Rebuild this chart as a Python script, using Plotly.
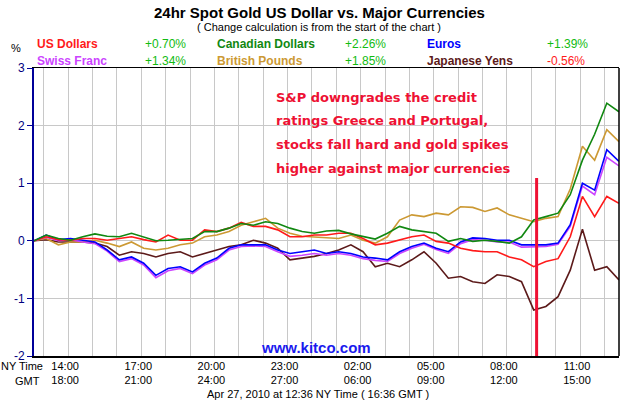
import plotly.graph_objects as go

# time axis: hours since 12:36 NY time on Apr 26 (24h window, 30-min samples)
hours = [i / 2 for i in range(49)]

us_dollars = [0, 0.07, 0.02, 0.01, 0.04, 0.04, 0.01, 0.04, 0.07, 0.02, -0.02, 0.10, 0.01, 0.01,
              0.19, 0.16, 0.22, 0.32, 0.25, 0.25, 0.19, 0.07, 0.07, 0.10, 0.10, 0.13, 0.13, 0.04,
              -0.07, -0.04, 0.01, 0.07, 0.10, -0.01, -0.04, -0.13, -0.17, -0.19, -0.19, -0.28,
              -0.33, -0.45, -0.36, -0.31, 0.07, 0.77, 0.42, 0.77, 0.65]
canadian_dollars = [0, 0.10, 0.04, 0.01, 0.07, 0.12, 0.08, 0.07, 0.13, 0.06, 0.00, 0.01, 0.03, 0.04,
                    0.16, 0.16, 0.22, 0.30, 0.27, 0.33, 0.30, 0.22, 0.16, 0.13, 0.17, 0.18, 0.12, 0.07,
                    0.03, 0.13, 0.25, 0.19, 0.16, 0.13, -0.01, 0.04, -0.01, 0.01, -0.01, -0.04,
                    0.07, 0.36, 0.42, 0.48, 0.80, 1.40, 1.85, 2.39, 2.24]
euros = [0, 0.10, 0.02, 0.04, 0.01, -0.02, -0.16, -0.33, -0.28, -0.39, -0.60, -0.48, -0.45, -0.54,
         -0.39, -0.30, -0.13, -0.07, -0.07, -0.07, -0.16, -0.22, -0.19, -0.16, -0.22, -0.19, -0.22,
         -0.28, -0.30, -0.33, -0.19, -0.10, -0.04, -0.13, -0.19, -0.02, 0.05, 0.04, 0.01, 0.01,
         -0.07, -0.07, -0.07, -0.04, 0.28, 1.00, 0.88, 1.58, 1.38]
swiss_franc = [0, 0.06, 0.00, 0.02, -0.02, -0.05, -0.18, -0.36, -0.31, -0.42, -0.64, -0.52, -0.48,
               -0.57, -0.42, -0.33, -0.16, -0.10, -0.09, -0.10, -0.19, -0.27, -0.25, -0.22, -0.25,
               -0.22, -0.25, -0.31, -0.34, -0.36, -0.22, -0.13, -0.06, -0.15, -0.22, -0.05, 0.02,
               0.01, -0.02, -0.02, -0.11, -0.11, -0.10, -0.06, 0.25, 0.95, 0.80, 1.45, 1.30]
british_pounds = [0, 0.04, -0.07, -0.02, -0.02, 0.01, -0.04, -0.10, -0.02, -0.13, -0.16, -0.13,
                  -0.07, -0.04, 0.07, 0.10, 0.16, 0.27, 0.33, 0.39, 0.22, 0.13, 0.08, 0.07, 0.06,
                  0.04, 0.10, 0.01, -0.04, 0.07, 0.36, 0.45, 0.42, 0.48, 0.45, 0.59, 0.58, 0.51,
                  0.57, 0.45, 0.39, 0.33, 0.39, 0.42, 0.90, 1.64, 1.40, 1.93, 1.72]
japanese_yens = [0, 0.02, -0.02, -0.02, -0.02, -0.04, -0.10, -0.25, -0.19, -0.22, -0.28, -0.22,
                 -0.19, -0.28, -0.22, -0.16, -0.10, -0.07, 0.01, -0.04, -0.13, -0.33, -0.30, -0.27,
                 -0.22, -0.16, -0.07, -0.19, -0.45, -0.39, -0.45, -0.33, -0.19, -0.39, -0.65, -0.62,
                 -0.71, -0.74, -0.59, -0.62, -0.71, -1.20, -1.14, -0.97, -0.51, 0.20, -0.51, -0.45,
                 -0.68]

names = ["US Dollars", "Canadian Dollars", "Euros", "Swiss Franc", "British Pounds", "Japanese Yens"]
change_pct = [0.70, 2.26, 1.39, 1.34, 1.85, -0.56]
colors = ["#ff1a1a", "#118811", "#0000ff", "#cc44ff", "#cc9933", "#5c1a1a"]
values = [us_dollars, canadian_dollars, euros, swiss_franc, british_pounds, japanese_yens]

tick_hours = [1.4, 4.4, 7.4, 10.4, 13.4, 16.4, 19.4, 22.4]
ny_labels = ["14:00", "17:00", "20:00", "23:00", "02:00", "05:00", "08:00", "11:00"]
gmt_labels = ["18:00", "21:00", "24:00", "27:00", "06:00", "09:00", "12:00", "15:00"]
y_ticks = [-2, -1, 0, 1, 2, 3]
event_hours = 20.62  # 09:13 NY time

FONT = "Arial, Liberation Sans, sans-serif"
L, R, T, B = 34, 11, 68, 44
W, H = 630, 400
PW, PH = W - L - R, H - T - B


def px(xp, yp):
    return (xp - L) / PW, (H - B - yp) / PH


fig = go.Figure()
draw_order = [5, 4, 3, 2, 0, 1]
for i in draw_order:
    fig.add_trace(go.Scatter(x=hours, y=values[i], mode="lines", name=names[i],
                             line=dict(color=colors[i], width=1.6), showlegend=False,
                             hoverinfo="skip"))

# legend block
col_x = [35, 215, 425]
val_x = [143, 343, 545]
for i, (n, c, p) in enumerate(zip(names, colors, change_pct)):
    col = i % 3
    row = i // 3
    yp = 44 + row * 17
    xx, yy = px(col_x[col], yp)
    fig.add_annotation(xref="paper", yref="paper", x=xx, y=yy, text=n, showarrow=False,
                       xanchor="left", yanchor="middle",
                       font=dict(family=FONT, size=12, color=c, weight="bold"))
    xx, yy = px(val_x[col], yp)
    fig.add_annotation(xref="paper", yref="paper", x=xx, y=yy,
                       xanchor="left", yanchor="middle", showarrow=False,
                       text=f"{p:+.2f}%",
                       font=dict(family=FONT, size=12, color="#11bb11" if p >= 0 else "#ff1a1a"))

annots = [
    (319, 12, "24hr Spot Gold US Dollar vs. Major Currencies", 15, "#000000", "bold", "center"),
    (319, 27, "( Change calculation is from the start of the chart )", 11, "#000000", "normal", "center"),
    (16, 48, "%", 11, "#000000", "normal", "center"),
    (316, 347, "www.kitco.com", 15, "#1a1aee", "bold", "center"),
    (45, 366, "NY Time", 11, "#000000", "normal", "right"),
    (42, 381, "GMT", 11, "#000000", "normal", "right"),
    (318, 394, "Apr 27, 2010 at 12:36 NY Time ( 16:36 GMT )", 11, "#000000", "normal", "center"),
]
for xp, yp, t, s, c, w, anc in annots:
    xx, yy = px(xp, yp)
    fig.add_annotation(xref="paper", yref="paper", x=xx, y=yy, text=t, showarrow=False,
                       xanchor=anc, yanchor="middle",
                       font=dict(family=FONT, size=s, color=c, weight=w))

note_lines = ["S&P downgrades the credit", "ratings Greece and Portugal,",
              "stocks fall hard and gold spikes", "higher against major currencies"]
bx0, by0 = px(273, 87)
bx1, by1 = px(523, 177)
fig.add_shape(type="rect", xref="paper", yref="paper", x0=bx0, x1=bx1, y0=by1, y1=by0,
              fillcolor="white", line=dict(width=0), layer="between")
for k, line in enumerate(note_lines):
    xx, yy = px(274, 97 + k * 23.7)
    fig.add_annotation(xref="paper", yref="paper", x=xx, y=yy, text=line, showarrow=False,
                       xanchor="left", yanchor="middle",
                       font=dict(family="DejaVu Sans, sans-serif", size=13, color="#ee1133",
                                 weight="bold"))

fig.add_shape(type="line", xref="x", yref="y", x0=event_hours, x1=event_hours, y0=-2, y1=1.09,
              line=dict(color="#ee1133", width=3))
fig.add_shape(type="line", xref="paper", yref="paper", x0=1, x1=1, y0=0, y1=1,
              line=dict(color="black", width=1.5))

fig.update_layout(
    width=W, height=H,
    margin=dict(l=L, r=R, t=T, b=B),
    paper_bgcolor="white", plot_bgcolor="white",
    font=dict(family=FONT, size=12, color="black"),
    xaxis=dict(range=[0, 24], tickvals=tick_hours,
               ticktext=[f"{a}<br>{b}" for a, b in zip(ny_labels, gmt_labels)],
               showgrid=True, gridcolor="#c8c8c8", gridwidth=1,
               minor=dict(tick0=0.4, dtick=1, showgrid=True, gridcolor="#c8c8c8", gridwidth=1),
               showline=True, linecolor="black", linewidth=1.5, mirror=True,
               ticks="", zeroline=False, tickfont=dict(size=11, color="black"),
               ticklabelshift=-3, ticklabelstandoff=-1, automargin=False),
    yaxis=dict(range=[-2, 3], tickvals=y_ticks, ticktext=[str(v) for v in y_ticks],
               showgrid=True, gridcolor="#c8c8c8", gridwidth=1, zeroline=False,
               showline=True, linecolor="#000099", linewidth=2, ticks="outside", ticklen=5,
               tickcolor="#000099", tickfont=dict(size=12, color="#000080"),
               automargin=False),
)
fig.write_html("out.html", config={"displayModeBar": False, "staticPlot": True},
               post_script="document.body.style.margin='0';document.body.style.overflow='hidden';")
